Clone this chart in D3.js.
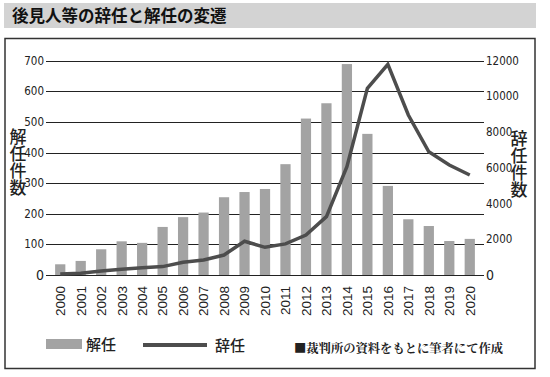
<!DOCTYPE html>
<html><head><meta charset="utf-8">
<script src="https://cdn.jsdelivr.net/npm/d3@7"></script>
<style>
html,body{margin:0;padding:0;background:#fff;}
svg{display:block;}
</style></head>
<body>
<svg id="c" width="550" height="377"></svg>
<script>
const years = ["2000","2001","2002","2003","2004","2005","2006","2007","2008","2009","2010","2011","2012","2013","2014","2015","2016","2017","2018","2019","2020"];
const dismissals = [35,46,84,110,105,157,189,204,254,271,281,362,511,561,689,461,291,182,160,111,118];
const resignations = [60,100,220,320,410,470,710,840,1120,1890,1550,1740,2240,3270,6060,10450,11800,8960,6900,6160,5600];
const leftTicks = [0,100,200,300,400,500,600,700];
const rightTicks = [0,2000,4000,6000,8000,10000,12000];

const svg = d3.select("#c");
const CJK = "'Noto Sans CJK JP','Noto Sans CJK SC',sans-serif";
const NARROW = "'Liberation Sans Narrow','DejaVu Sans Condensed',sans-serif";

// title bar
svg.append("rect").attr("x",4).attr("y",3).attr("width",532).attr("height",25).attr("fill","#d3d3d3");
svg.append("text").attr("x",12).attr("y",22).attr("font-family",CJK).attr("font-weight",700)
  .attr("font-size",16.5).attr("fill","#111").text("後見人等の辞任と解任の変遷");

// frame
svg.append("rect").attr("x",5).attr("y",38.5).attr("width",530).attr("height",330)
  .attr("fill","none").attr("stroke","#333").attr("stroke-width",1.5);

const x = d3.scaleBand().domain(years).range([50,480]).paddingInner(0.5).paddingOuter(0.25);
const yL = d3.scaleLinear().domain([0,700]).range([275,60.7]);
const yR = d3.scaleLinear().domain([0,12000]).range([275,60.7]);

// gridlines
svg.append("g").selectAll("line").data(leftTicks).join("line")
  .attr("x1",46).attr("x2",484).attr("y1",d=>Math.round(yL(d))+0.5).attr("y2",d=>Math.round(yL(d))+0.5)
  .attr("stroke","#222").attr("stroke-width",1);

// left axis labels
svg.append("g").selectAll("text").data(leftTicks).join("text")
  .attr("x",44).attr("y",d=>yL(d)).attr("dy","0.35em").attr("text-anchor","end")
  .attr("font-family",NARROW).attr("font-size",d=>d===0?14:11.5).attr("fill","#222").text(d=>d);

// right axis labels
svg.append("g").selectAll("text").data(rightTicks).join("text")
  .attr("x",486).attr("y",d=>yR(d)).attr("dy","0.35em").attr("text-anchor","start")
  .attr("font-family",NARROW).attr("font-size",d=>d===0?14:11.5).attr("fill","#222").text(d=>d);

// bars
svg.append("g").selectAll("rect").data(years).join("rect")
  .attr("x",(d)=>x(d)).attr("width",x.bandwidth())
  .attr("y",(d,i)=>yL(dismissals[i])).attr("height",(d,i)=>yL(0)-yL(dismissals[i]))
  .attr("fill","#a3a3a3");

// line
const line = d3.line().x((d,i)=>x(years[i])+x.bandwidth()/2).y(d=>yR(d));
svg.append("path").datum(resignations).attr("d",line).attr("fill","none")
  .attr("stroke","#4d4d4d").attr("stroke-width",3.5).attr("stroke-linejoin","miter");

// x labels
svg.append("g").selectAll("text").data(years).join("text")
  .attr("transform",d=>`translate(${x(d)+x.bandwidth()/2},286) rotate(-90)`)
  .attr("dy","0.36em").attr("text-anchor","end")
  .attr("font-family","'Liberation Sans',Arial,sans-serif").attr("font-size",13.5).attr("fill","#222").text(d=>d);

// axis titles (vertical)
svg.append("text").attr("x",18).attr("y",128).attr("style","writing-mode:vertical-rl")
  .attr("text-anchor","start").attr("font-family",CJK).attr("font-weight",500).attr("font-size",17)
  .attr("fill","#222").text("解任件数");
svg.append("text").attr("x",519).attr("y",130).attr("style","writing-mode:vertical-rl")
  .attr("text-anchor","start").attr("font-family",CJK).attr("font-weight",500).attr("font-size",17)
  .attr("fill","#222").text("辞任件数");

// legend
svg.append("rect").attr("x",46).attr("y",339).attr("width",36).attr("height",10).attr("fill","#a3a3a3");
svg.append("text").attr("x",86).attr("y",350).attr("font-family",CJK).attr("font-weight",500)
  .attr("font-size",15).attr("fill","#222").text("解任");
svg.append("line").attr("x1",143).attr("x2",207).attr("y1",345).attr("y2",345)
  .attr("stroke","#4d4d4d").attr("stroke-width",4);
svg.append("text").attr("x",215).attr("y",351).attr("font-family",CJK).attr("font-weight",500)
  .attr("font-size",15).attr("fill","#222").text("辞任");
svg.append("text").attr("x",294).attr("y",353).attr("font-family","'Noto Serif CJK JP','Noto Sans CJK JP',serif").attr("font-weight",700)
  .attr("font-size",12.3).attr("fill","#222").text("■裁判所の資料をもとに筆者にて作成");
</script>
</body></html>
